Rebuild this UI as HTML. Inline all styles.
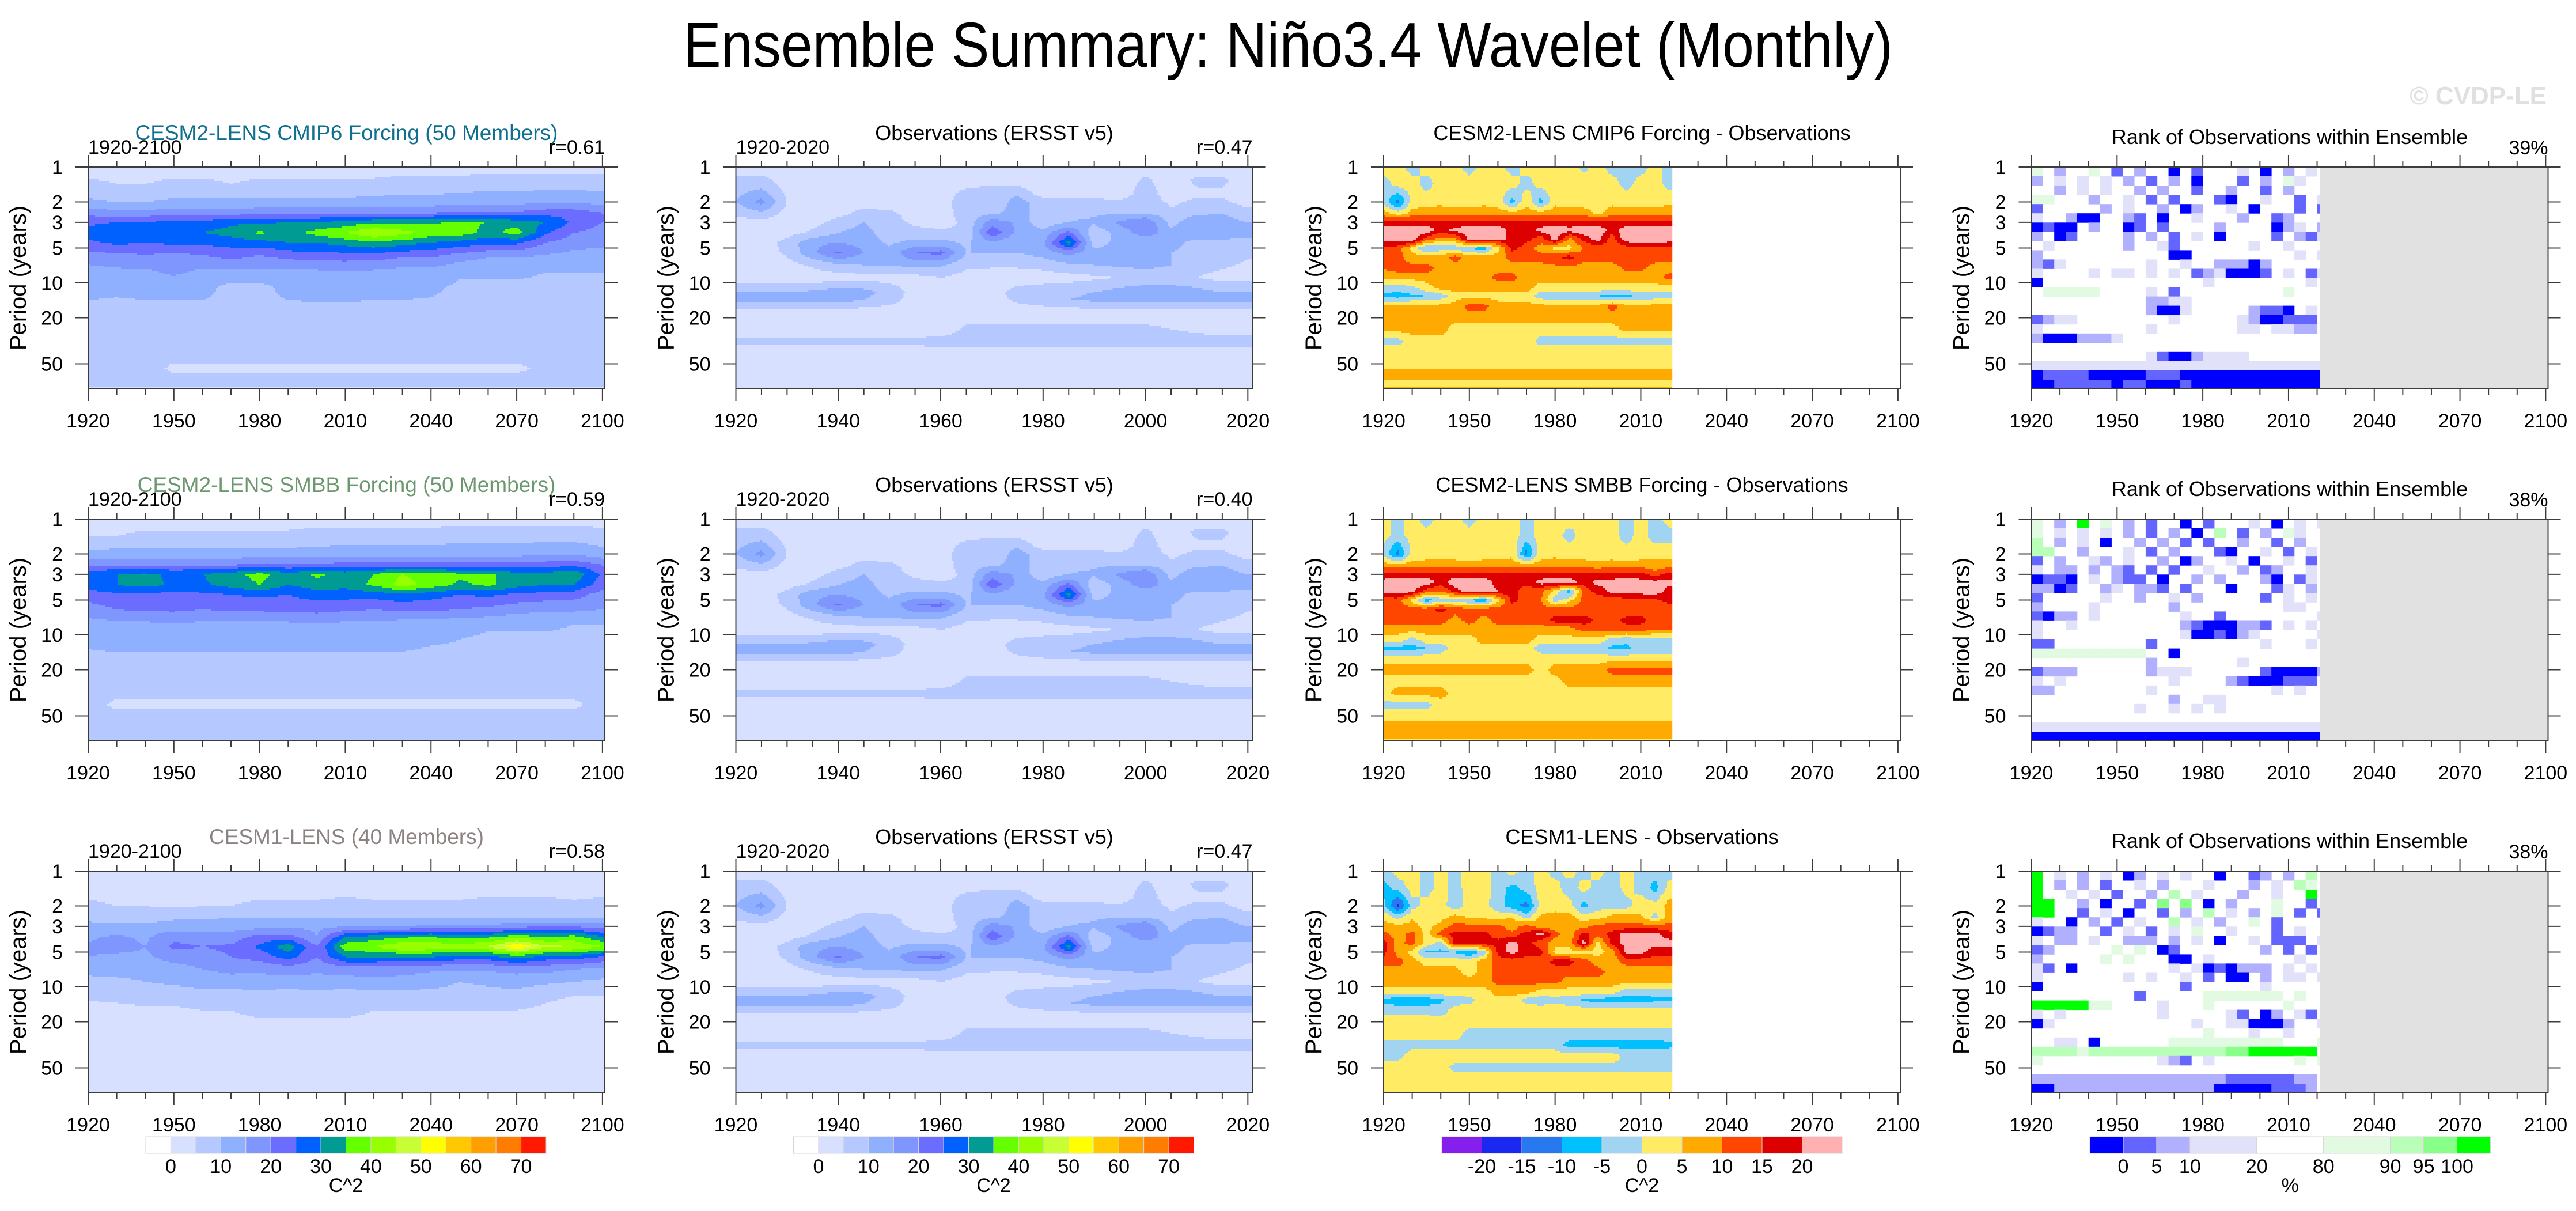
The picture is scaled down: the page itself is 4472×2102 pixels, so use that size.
<!DOCTYPE html>
<html><head><meta charset="utf-8"><title>Ensemble Summary: Niño3.4 Wavelet (Monthly)</title>
<style>
html,body{margin:0;padding:0;background:#fff;}
svg{display:block;font-family:"Liberation Sans",Arial,sans-serif;}
</style></head>
<body>
<svg id="fig" xmlns="http://www.w3.org/2000/svg" width="4472" height="2102" viewBox="0 0 4472 2102">
<rect x="0" y="0" width="4472" height="2102" fill="#ffffff"/>
<text x="2236" y="116" font-size="110" text-anchor="middle" textLength="2100" lengthAdjust="spacingAndGlyphs" fill="#000">Ensemble Summary: Niño3.4 Wavelet (Monthly)</text>
<text x="4421" y="181" font-size="44" font-weight="bold" text-anchor="end" fill="#e0e0e0">© CVDP-LE</text>
</svg>
<script>
// ---------------- DATA ----------------
const powTimes=[1920,1930,1940,1950,1960,1970,1980,1990,2000,2010,2020,2030,2040,2050,2060,2070,2080,2090,2100];
const powPeriods=[1,1.4,2,2.5,3,3.7,4.5,6,8,11,16,25,40,55,70,82];
const powCmip6=[
[3,3,3,3,3,3,3,3,3,3,3,3,3,3,3,3,3,3,3],
[6,5,5,6,6,5,6,6,6,6,6,7,7,7,8,8,8,8,8],
[11,10,10,11,11,11,11,11,11,11,12,12,12,13,13,13,14,14,13],
[18,17,17,18,18,18,19,19,19,20,20,20,20,21,21,21,23,23,20],
[24,25,25,27,27,29,29,30,30,32,34,34,34,36,35,33,30,24,20],
[27,28,28,30,30,32,36,33,37,40,45,42,38,38,33,37,26,20,18],
[24,26,25,26,26,27,28,30,30,32,34,32,30,28,26,26,20,17,16],
[17,18,19,18,19,21,19,21,22,22,22,20,20,17,15,15,14,13,13],
[13,14,14,16,14,14,14,14,14,15,14,13,13,11,11,11,10,10,10],
[12,11,12,12,12,8,8,12,13,13,12,12,11,9,9,9,9,9,9],
[9,9,9,9,9,9,9,9,9,9,9,9,9,9,9,9,7,7,8],
[8,8,8,8,8,8,8,8,8,8,8,8,7,5,5,5,8,8,8],
[7,7,7,7,7,7,7,7,7,7,7,7,7,7,7,7,7,7,7],
[7,7,7,4,4,4,4,4,4,4,4,4,4,4,4,4,6,7,7],
[7,7,7,7,7,7,7,7,7,7,7,7,7,7,7,7,7,7,7],
[4,4,4,4,4,4,4,4,4,4,4,4,4,4,4,4,4,4,4]];
const powSmbb=[
[3,3,3,3,3,3,3,3,3,3,3,3,3,3,3,3,3,3,3],
[5,5,6,6,6,6,6,6,7,7,7,7,7,8,8,8,8,8,7],
[11,12,12,12,12,12,12,12,12,13,13,13,13,13,13,13,14,14,12],
[20,20,20,20,20,20,21,21,21,22,22,22,22,22,22,22,23,24,20],
[28,30,31,29,30,33,37,32,36,33,35,40,38,36,36,32,32,34,24],
[28,30,32,29,29,32,35,30,33,32,36,42,38,34,36,32,30,30,22],
[22,24,24,23,24,25,26,25,27,27,27,29,27,25,26,24,23,22,18],
[18,20,21,21,20,21,21,22,22,21,20,21,21,20,19,17,16,16,15],
[13,14,14,15,14,14,14,14,15,14,14,13,12,12,11,11,11,10,10],
[11,12,12,12,12,12,12,12,12,12,12,12,11,10,9,9,9,9,9],
[9,9,9,9,9,9,9,9,9,9,9,9,8,8,8,8,8,8,8],
[8,8,8,8,8,8,8,8,8,8,8,8,8,8,8,8,8,8,8],
[7,4,4,4,4,4,4,4,4,4,4,4,4,4,4,4,4,4,7],
[7,7,7,7,7,7,7,7,7,7,7,7,7,7,7,7,7,7,7],
[7,7,7,7,7,7,7,7,7,7,7,7,7,7,7,7,7,7,7],
[7,7,7,7,7,7,7,7,7,7,7,7,7,7,7,7,7,7,7]];
const powCesm1Periods=[1,1.4,2,2.5,3,3.7,4.5,5.5,7,9,12,16,25,50,82];
const powCesm1=[
[3,3,3,3,3,3,3,3,3,3,3,3,3,3,3,3,3,3,3],
[3,3,3,3,3,3,3,3,3,3,3,3,3,3,3,3,3,3,3],
[6,5,5,4,5,5,6,6,6,7,6,6,6,6,7,7,7,6,7],
[9,8,8,9,9,10,10,10,10,10,10,10,10,10,10,10,10,10,10],
[11,11,11,12,12,13,13,14,14,14,15,15,16,16,16,18,19,19,17],
[14,16,14,19,18,17,22,22,15,30,32,34,35,32,34,38,35,37,30],
[16,17,15,21,20,21,26,33,20,38,40,45,44,44,45,55,46,45,40],
[15,14,14,17,18,20,22,27,20,30,30,30,30,28,28,32,28,28,24],
[11,12,12,13,15,17,16,18,16,18,18,17,16,16,16,17,17,15,14],
[9,9,10,11,12,12,13,12,13,12,13,13,12,10,11,12,11,10,9],
[6,6,7,7,8,8,8,8,8,8,8,8,8,8,8,8,6,5,5],
[3,4,4,4,5,5,6,6,6,6,5,5,5,5,5,5,4,3,3],
[3,3,3,3,3,3,3,3,3,3,3,3,3,3,3,3,3,3,3],
[3,3,3,3,3,3,3,3,3,3,3,3,3,3,3,3,3,3,3],
[3,3,3,3,3,3,3,3,3,3,3,3,3,3,3,3,3,3,3]];
const obsTimes=[1920,1925,1930,1935,1940,1945,1950,1955,1960,1965,1970,1975,1980,1985,1990,1995,2000,2005,2010,2015,2020];
const obsPeriods=[1,1.3,1.7,2,2.5,3,3.7,4.5,5.5,7,9,12,14,18,25,32,40,60,82];
const obsPower=[
[2,2,2,2,2,2,2,2,2,2,2,2,2,2,2,2,2,2,2,2,2],
[7,7,2,2,2,2,2,2,2,2,2,2,2,2,2,2,6,2,6,6,2],
[9,12,4,2,2,2,2,2,2,7,9,9,2,2,2,2,8,2,4,4,2],
[10,17,5,2,2,2,2,2,2,9,6,12,8,8,7,6,8,4,6,6,3],
[6,9,3,2,3,7,6,3,2,8,9,12,8,9,9,10,10,6,9,10,7],
[3,3,3,3,7,10,7,4,3,6,18,14,6,10,11,16,20,8,14,12,10],
[2,2,3,6,10,12,7,7,6,6,24,14,12,22,6,12,18,12,12,12,12],
[2,2,7,14,15,13,9,12,12,9,14,10,14,32,7,12,11,11,9,9,8],
[2,2,6,14,21,15,12,20,22,10,10,10,12,17,12,13,12,10,9,10,6],
[2,2,3,6,9,10,10,12,11,6,6,6,7,9,10,11,12,10,7,6,4],
[2,2,2,2,2,3,3,3,5,3,2,2,2,3,4,5,6,6,5,3,3],
[10,10,10,11,13,12,8,3,3,3,3,7,9,9,10,12,14,14,12,10,10],
[12,12,12,12,12,10,7,3,3,3,3,6,8,10,11,12,12,12,11,11,11],
[2,2,2,2,2,2,2,2,2,2,2,2,2,2,2,2,2,2,2,2,2],
[2,2,2,2,2,2,2,2,2,6,6,6,6,6,6,6,6,5,4,3,3],
[6,6,6,6,6,6,6,6,7,7,7,7,7,7,7,7,7,7,7,7,7],
[3,3,3,3,3,3,3,3,3,3,3,3,3,3,3,3,3,3,3,3,3],
[2,2,2,2,2,2,2,2,2,2,2,2,2,2,2,2,2,2,2,2,2],
[2,2,2,2,2,2,2,2,2,2,2,2,2,2,2,2,2,2,2,2,2]];
const diffTimes=obsTimes;
const diffPeriods=[1,1.4,2,2.5,3,3.5,4.2,5,6,7.5,9,11,13,16,20,25,32,40,50,62,75,82];
const diffCmip6=[
[2,2,-2,2,2,2,-2,2,2,-2,2,2,2,2,-1,2,-2,-1,-2,2,-2],
[-2,2,2,-2,2,2,2,2,2,2,-2,2,2,2,2,2,2,-2,2,2,-2],
[-2,-12,2,3,4,3,3,4,3,-7,4,-7,4,3,3,3,4,3,3,3,4],
[7,2,7,8,7,7,7,7,7,7,7,7,7,7,7,4,7,7,7,7,8],
[17,17,17,17,17,16,17,17,17,17,16,17,17,17,17,17,17,17,17,17,17],
[24,24,24,24,17,22,24,24,24,17,17,22,24,22,24,24,17,24,24,24,24],
[22,24,24,12,8,8,22,24,20,20,17,12,22,8,17,22,12,24,24,24,24],
[14,12,3,-6,-3,-3,-6,-8,3,17,12,8,3,3,10,12,12,12,14,14,12],
[12,12,7,7,7,12,7,7,7,12,12,12,14,17,12,12,12,12,12,12,12],
[10,12,12,12,8,8,10,8,8,8,8,8,8,8,8,8,8,11,11,8,8],
[7,7,7,7,7,7,7,7,12,12,7,7,7,7,7,7,7,7,7,7,12],
[-3,-3,-1,3,7,7,7,7,7,7,7,3,3,3,3,3,3,3,3,3,3],
[-6,-7,-6,-5,-3,3,3,3,3,3,3,-3,-4,-4,-4,-5,-7,-6,-4,-3,-3],
[6,6,7,7,7,7,12,12,7,7,7,7,7,7,7,7,12,7,7,7,7],
[7,7,7,7,7,7,7,7,7,7,7,7,7,7,7,7,7,7,7,7,7],
[7,7,7,7,7,3,3,3,3,3,3,3,3,3,3,3,3,7,7,7,7],
[-2,-2,3,3,3,3,3,3,3,3,3,-2,-2,-2,-2,-2,-2,-2,-2,-2,-2],
[3,3,3,3,3,3,3,3,3,3,3,3,3,3,3,3,3,3,3,3,3],
[3,3,3,3,3,3,3,3,3,3,3,3,3,3,3,3,3,3,3,3,3],
[7,7,7,7,7,7,7,7,7,7,7,7,7,7,7,7,7,7,7,7,7],
[3,3,3,3,3,3,3,3,3,3,3,3,3,3,3,3,3,3,3,3,3],
[7,7,7,7,7,7,7,7,7,7,7,7,7,7,7,7,7,7,7,7,7]];
const diffSmbb=[
[2,-2,2,-2,2,2,-2,2,2,2,-2,2,2,2,2,2,2,-2,2,-2,2],
[2,-2,2,2,2,2,2,2,2,2,-2,2,2,-2,2,2,2,-2,2,-2,-2],
[-2,-12,2,3,3,3,2,3,3,4,-12,3,4,3,3,3,3,2,3,3,3],
[7,7,7,7,7,7,7,7,7,7,7,7,7,7,7,6,7,7,7,7,7],
[17,17,17,17,17,17,17,17,17,17,17,17,17,17,17,17,17,17,17,12,17],
[22,24,24,24,17,24,24,24,17,17,17,22,24,24,17,22,22,24,22,22,22],
[22,24,22,12,10,17,24,24,20,17,12,12,3,-8,12,17,22,24,24,24,17],
[12,12,3,-8,-3,-3,-6,-10,3,17,12,10,-3,3,12,12,12,12,12,14,17],
[12,12,12,12,17,12,12,12,12,12,12,12,12,12,12,14,12,12,12,12,12],
[12,12,12,12,12,8,12,8,12,12,12,12,17,17,17,14,12,17,17,12,12],
[7,7,7,7,7,7,7,7,7,7,7,7,7,7,12,12,12,12,12,10,10],
[3,3,-2,3,3,3,3,7,7,7,7,3,3,3,3,3,-2,-4,-2,-2,-2],
[-7,-7,-7,-5,-3,3,3,3,3,3,3,-3,-3,-3,-3,-3,-6,-6,-3,-3,-3],
[3,3,3,3,3,3,3,3,3,3,3,3,3,3,3,3,3,3,3,3,3],
[7,7,7,7,7,7,7,7,7,7,7,3,7,7,7,7,12,12,12,12,12],
[3,3,3,3,3,3,3,3,3,3,3,3,3,7,7,7,7,7,7,7,7],
[3,7,7,7,7,3,3,3,3,3,3,3,3,3,3,3,3,3,3,3,3],
[-2,-2,-2,-2,3,3,3,3,3,3,3,3,3,3,3,3,3,3,3,3,3],
[3,3,3,3,3,3,3,3,3,3,3,3,3,3,3,3,3,3,3,3,3],
[7,7,7,7,7,7,7,7,7,7,7,7,7,7,7,7,7,7,7,7,7],
[7,7,7,7,7,7,7,7,7,7,7,7,7,7,7,7,7,7,7,7,7],
[3,3,3,3,3,3,3,3,3,3,3,3,3,3,3,3,3,3,3,3,3]];
const diffCesm1=[
[-2,2,2,-2,2,-2,2,2,-2,2,-2,2,-2,2,-2,2,-2,2,-2,-2,-2],
[-7,-3,2,-2,2,-2,2,2,-2,-7,-3,2,2,-3,2,-2,-3,2,-2,-7,2],
[-3,-17,-2,2,2,-3,2,2,-3,-8,-12,2,3,2,-7,-2,-3,-2,3,2,7],
[4,-2,4,3,3,7,4,4,3,5,-2,6,7,7,2,3,7,7,6,-2,7],
[7,7,7,3,7,12,12,12,12,7,12,7,7,8,8,12,12,12,12,12,12],
[12,7,12,3,12,17,17,17,12,12,17,22,12,7,17,12,17,22,22,22,17],
[17,8,12,3,-3,17,17,17,17,22,17,12,7,7,22,3,17,22,22,22,22],
[17,8,3,-6,-6,-6,-10,-3,17,22,17,17,3,3,3,3,7,22,22,17,17],
[12,12,7,3,3,3,3,7,12,12,12,12,17,17,12,8,7,12,12,12,12],
[8,8,7,7,7,7,3,7,12,12,12,12,12,12,12,12,8,7,7,7,7],
[7,7,7,7,7,7,7,7,12,12,12,12,12,7,7,7,7,7,7,7,7],
[3,3,3,3,3,3,3,3,7,7,7,3,3,3,3,3,3,-3,-3,-3,-3],
[-7,-8,-8,-8,-6,-3,-2,3,3,3,-2,-3,-2,-3,-6,-7,-8,-8,-8,-6,-6],
[-2,-2,-2,-2,-3,3,3,3,3,3,3,3,3,3,3,3,3,3,3,3,3],
[3,3,3,3,3,3,3,3,3,3,3,3,3,3,3,3,3,3,3,3,3],
[3,3,3,3,3,3,-2,-2,-2,-2,-2,-2,-2,-2,-2,-2,-2,-2,-2,-2,-2],
[-2,-2,-2,-2,-2,-2,-2,-2,-2,-2,-2,-2,-2,-7,-7,-7,-7,-7,-7,-7,-6],
[-2,-2,3,3,3,3,3,3,3,3,3,3,3,3,3,3,3,-2,-2,-2,-2],
[3,3,3,3,3,-2,-2,-2,-2,-2,-2,-2,-2,-2,-2,-2,-2,-2,-2,-2,-2],
[3,3,3,3,3,3,3,3,3,3,3,3,3,3,3,3,3,3,3,3,3],
[3,3,3,3,3,3,3,3,3,3,3,3,3,3,3,3,3,3,3,3,3],
[3,3,3,3,3,3,3,3,3,3,3,3,3,3,3,3,3,3,3,3,3]];
// rank cells: 4-year columns from 1920, 24 log-period rows; code = colorbar bin (0..8), '.' = white bin (4)
const rankYearStep=4;
const rankCmip6=[
"5.2..5.1.2..0.1...3.0.2.3.","2.3.3.3.2.1.2.0...1.2.53..","..2.3.3..2.2..1..2..1.2...","55...2..3.1.1...10..3..1.3",
"1.....2.3..2.02..3.0...1.1","3..200..21.0..3...2..12...","0100.2..01.1....2....023.2","2.01....2.2.1.3.0....1.213",
".3......2..31......3..3..","2...........00.........3.3","213.......3..3..22202.....2","3....3.33.3.3.1230001.3.13",
"0..............3........3.",".55555....3.1.........5...","..........2233............","..........2003.....2110.3",
"1233........3.....3200111","3.........3.......33.3322","20002223..................","..........................",
"..........310023333.......","33333333333333333333333333","01111000001110000000000000","00111110110001000000000000"];
const rankSmbb=[
"5.2.8.5.2.1..0.1...3.0.3.3","5.3.3.3.2.1.2.0.6.1.2.53..","6.2.3.0..2.2.1.1..2..1.2..","66..2...3.1.2...10..3.1.3",
"1.2..32.3..2.02..3.0..3.1","3.22.2.21.1.1..3..2.12..3","0110.3.211.0..2.2...20.13","2201..23.221.1...0...13.2",
"1.....3..2..3.2.....1.3.3","2....3......2.........33","1022.3.......3..1........3","3..3.........21000221.3.3",
"3............3001023.....3","11........1.........3...3","5555555555..0...........","..........2.......3....",
"1222......2333......100002","3.3.........3....21000111","22........3..........3.3","............2..33........",
".........3..3.3.3........","..........................","33333333333333333333333333","00000000000000000000000000"];
const rankCesm1=[
"8.3.2.3.02.3.3..0..12.2.6.","8.2.2.1..3.2...3...2.3.65.6","8..3.3.1..2.6.3...2..3..8.","88..2.0..1.7.7.0.2...5..1.",
"88..1.3.0..1.2.6.3.2.5.1.1","3..0.2.1.3..6.3.2..5.1....","0122..1.3.1.3.5..3...1.3..","3.22.3..222.2.3.0..3.111.3",
"12.....5.5.01.......2.1.1.2","2.....5.5...00.3.......3.","31.0........3.3010222.3.3.","3.......3.3..3.1.00.2.33.3",
"0............1......3....",".........1.....5555555.5..","8888855....3...5......5..","3.3........3.....31.02.31.",
"03............3..330002..3","...............5...3..3..","..33.0......5555555555...5","6666566666666666677888888",
"5..........321.3.......5.5","..........................","2222222222222222211111122","0022222222222222000001112"];
// colour scales
const powLevels=[0,5,10,15,20,25,30,35,40,45,50,55,60,65,70];
const powColors=['#ffffff','#d7e0ff','#b5c8ff','#8fb0ff','#7f96ff','#6a6dff','#0061ff','#009b93','#66ff00','#98ff00','#c8ff34','#ffff00','#ffc800','#ffa000','#ff7c00','#ff1900'];
const powTickLabels=['0','10','20','30','40','50','60','70'];
const diffLevels=[-20,-15,-10,-5,0,5,10,15,20];
const diffColors=['#8520ec','#1a28f0','#2878f0','#00c0ff','#a0d4f0','#ffeb64','#ffaa00','#ff4600','#dc0000','#ffb0b0'];
const diffTickLabels=['-20','-15','-10','-5','0','5','10','15','20'];
const rankColors=['#0000ff','#6464ff','#b0b0ff','#e1e1fa','#ffffff','#e1fae1','#b9ffb9','#88ff88','#00ff00'];
const rankUnits=[1,1,1,2,2,2,1,1,1];
const rankTickLabels=['0','5','10','20','80','90','95','100'];
const periodTicks=[1,2,3,5,10,20,50];
const corrModel=['r=0.61','r=0.59','r=0.58'];
const corrObs=['r=0.47','r=0.40','r=0.47'];
const rankPct=['39%','38%','38%'];
const modelTitles=['CESM2-LENS CMIP6 Forcing (50 Members)','CESM2-LENS SMBB Forcing (50 Members)','CESM1-LENS (40 Members)'];
const modelTitleColors=['#0f6f8e','#6c9870','#8c8282'];
const diffTitles=['CESM2-LENS CMIP6 Forcing - Observations','CESM2-LENS SMBB Forcing - Observations','CESM1-LENS - Observations'];

// ---------------- RENDER ----------------
const NS='http://www.w3.org/2000/svg';
const svg=document.getElementById('fig');
const PW=897, PH=385, LOGMAX=PH/201;
const colX=[153,1277.5,2402,3526.5], rowY=[290,901,1512];
const FULL_END=2100.83, OBS_END=2020.92;
function el(tag,attrs,parent){const n=document.createElementNS(NS,tag);for(const k in attrs)n.setAttribute(k,attrs[k]);parent.appendChild(n);return n;}
function txt(parent,x,y,s,size,anchor,fill){const t=el('text',{x:x,y:y,'font-size':size,'text-anchor':anchor||'middle',fill:fill||'#000'},parent);t.textContent=s;return t;}
function interp(times,lps,grid,yr,lp){
  let i=0;while(i<times.length-2&&yr>times[i+1])i++;
  let tx=(yr-times[i])/(times[i+1]-times[i]);tx=Math.max(0,Math.min(1,tx));
  let j=0;while(j<lps.length-2&&lp>lps[j+1])j++;
  let ty=(lp-lps[j])/(lps[j+1]-lps[j]);ty=Math.max(0,Math.min(1,ty));
  const a=grid[j][i],b=grid[j][i+1],c=grid[j+1][i],d=grid[j+1][i+1];
  return (a*(1-tx)+b*tx)*(1-ty)+(c*(1-tx)+d*tx)*ty;
}
function levelIdx(v,levels){let k=0;while(k<levels.length&&v>=levels[k])k++;return k;}
let clipN=0;
function makePanel(px,py,xmin,xmax,majStep,minStep,name){
  const g=el('g',{},svg);
  
  
  const cid='clip'+(clipN++);
  const cp=el('clipPath',{id:cid},g);el('rect',{x:px,y:py,width:PW,height:PH},cp);
  const field=el('g',{'clip-path':'url(#'+cid+')'},g);
  
  
  const P={g:g,field:field,x:px,y:py,xmin:xmin,xmax:xmax,majStep:majStep,minStep:minStep};
  P.xs=yr=>px+(yr-xmin)/(xmax-xmin)*PW;
  P.ys=per=>py+Math.log10(per)/LOGMAX*PH;
  return P;
}
function drawContour(P,times,periods,grid,levels,colors,dataEnd){
  const lps=periods.map(p=>Math.log10(p));
  const dx=3,dy=3;
  const xEnd=Math.min(PW,(dataEnd-P.xmin)/(P.xmax-P.xmin)*PW);
  for(let j=0;j<PH;j+=dy){
    const lp=(j+dy/2)/PH*LOGMAX;
    let start=0,cur=null;
    const emit=(s,e,ci)=>{
      if(ci===null||colors[ci]==='#ffffff')return;
      const r=el('rect',{x:(P.x+s).toFixed(1),y:(P.y+j).toFixed(1),width:(Math.min(e,xEnd)-s+0.6).toFixed(1),height:dy+0.6,fill:colors[ci]},P.field);
      
      
    };
    for(let i=0;i<xEnd;i+=dx){
      const yr=P.xmin+(i+dx/2)/PW*(P.xmax-P.xmin);
      const ci=levelIdx(interp(times,lps,grid,yr,lp),levels);
      if(ci!==cur){emit(start,i,cur);start=i;cur=ci;}
    }
    emit(start,xEnd,cur);
  }
}
function drawRank(P,rows){
  const nR=rows.length;
  for(let r=0;r<nR;r++){
    const pTop=Math.pow(10,r/nR*LOGMAX),pBot=Math.pow(10,(r+1)/nR*LOGMAX);
    const s=rows[r];
    for(let c=0;c<s.length;c++){
      const ch=s[c];const code=(ch==='.')?4:parseInt(ch,10);
      if(isNaN(code)||code===4)continue;
      const y0=1920+c*rankYearStep;let y1=y0+rankYearStep;if(y1>OBS_END)y1=OBS_END;if(y0>=OBS_END)continue;
      const x0=P.xs(y0),x1=P.xs(y1),t=P.ys(pTop),b=P.ys(pBot);
      const rc=el('rect',{x:x0.toFixed(1),y:t.toFixed(1),width:(x1-x0+0.5).toFixed(1),height:(b-t+0.5).toFixed(1),fill:rankColors[code]},P.field);
      
      
    }
  }
  const gx=P.xs(OBS_END);
  const gr=el('rect',{x:gx,y:P.y,width:P.x+PW-gx,height:PH,fill:'#e1e1e1'},P.field);
  
  
}
function drawAxes(P){
  const g=P.g,ax=el('g',{stroke:'#3c3c3c','stroke-width':2,fill:'none'},g);
  
  
  const fr=el('rect',{x:P.x,y:P.y,width:PW,height:PH},ax);
  
  
  const xmaxTick=Math.floor(P.xmax);
  for(let yr=1920;yr<=xmaxTick;yr+=P.minStep){
    const major=((yr-1920)%P.majStep)===0,L=major?21:11,x=P.xs(yr);
    el('line',{x1:x,y1:P.y,x2:x,y2:P.y-L},ax);
    el('line',{x1:x,y1:P.y+PH,x2:x,y2:P.y+PH+L},ax);
    if(major){const t=txt(g,x,P.y+PH+67,String(yr),34);
      
      }
  }
  periodTicks.forEach(p=>{
    const y=P.ys(p);
    el('line',{x1:P.x-22,y1:y,x2:P.x,y2:y},ax);
    el('line',{x1:P.x+PW,y1:y,x2:P.x+PW+22,y2:y},ax);
    const t=txt(g,P.x-44,y+12,String(p),34,'end');
    
    
  });
  const yl=txt(g,0,0,'Period (years)',40);
  yl.setAttribute('transform','translate('+(P.x-108)+','+(P.y+PH/2)+') rotate(-90)');
  
  
}
function colorbar(x0,x1,units,colors,labels,labelIdx,title,name){
  const g=el('g',{},svg);
  
  
  const tot=units.reduce((a,b)=>a+b,0),uw=(x1-x0)/tot;let x=x0;const bounds=[];
  for(let i=0;i<colors.length;i++){
    const w=units[i]*uw;
    const r=el('rect',{x:x,y:1973,width:w,height:29,fill:colors[i],stroke:'#d4d4d4','stroke-width':1},g);
    
    
    x+=w;bounds.push(x);
  }
  labels.forEach((s,k)=>{const t=txt(g,bounds[labelIdx[k]],2036,s,34);
    
    });
  const tt=txt(g,(x0+x1)/2,2069,title,34);
  
  
}
const powGrids=[powCmip6,powSmbb,powCesm1],powPers=[powPeriods,powPeriods,powCesm1Periods];
const diffGrids=[diffCmip6,diffSmbb,diffCesm1],rankGrids=[rankCmip6,rankSmbb,rankCesm1];
for(let r=0;r<3;r++){
  const y=rowY[r];
  // model power
  let P=makePanel(colX[0],y,1920,FULL_END,30,10,'model-wavelet-panel');
  drawContour(P,powTimes,powPers[r],powGrids[r],powLevels,powColors,FULL_END);drawAxes(P);
  let t=txt(P.g,P.x+PW/2,y-47,modelTitles[r],37,'middle',modelTitleColors[r]);
  t=txt(P.g,P.x,y-23,'1920-2100',34,'start');
  t=txt(P.g,P.x+PW,y-23,corrModel[r],34,'end');
  // observations
  P=makePanel(colX[1],y,1920,OBS_END,20,5,'obs-wavelet-panel');
  drawContour(P,obsTimes,obsPeriods,obsPower,powLevels,powColors,OBS_END);drawAxes(P);
  t=txt(P.g,P.x+PW/2,y-47,'Observations (ERSST v5)',36);
  t=txt(P.g,P.x,y-23,'1920-2020',34,'start');
  t=txt(P.g,P.x+PW,y-23,corrObs[r],34,'end');
  // difference
  P=makePanel(colX[2],y,1920,FULL_END,30,10,'difference-panel');
  drawContour(P,diffTimes,diffPeriods,diffGrids[r],diffLevels,diffColors,OBS_END);drawAxes(P);
  t=txt(P.g,P.x+PW/2,y-47,diffTitles[r],36);
  // rank
  P=makePanel(colX[3],y,1920,FULL_END,30,10,'rank-panel');
  drawRank(P,rankGrids[r]);drawAxes(P);
  t=txt(P.g,P.x+PW/2,y-40,'Rank of Observations within Ensemble',36);
  t=txt(P.g,P.x+PW,y-22,rankPct[r],34,'end');
}
colorbar(253,948,powColors.map(()=>1),powColors,powTickLabels,[0,2,4,6,8,10,12,14],'C^2','model-colorbar');
colorbar(1377.5,2072.5,powColors.map(()=>1),powColors,powTickLabels,[0,2,4,6,8,10,12,14],'C^2','obs-colorbar');
colorbar(2503,3198,diffColors.map(()=>1),diffColors,diffTickLabels,[0,1,2,3,4,5,6,7,8],'C^2','difference-colorbar');
colorbar(3628,4323.5,rankUnits,rankColors,rankTickLabels,[0,1,2,3,4,5,6,7],'%','rank-colorbar');
</script>
</body></html>
